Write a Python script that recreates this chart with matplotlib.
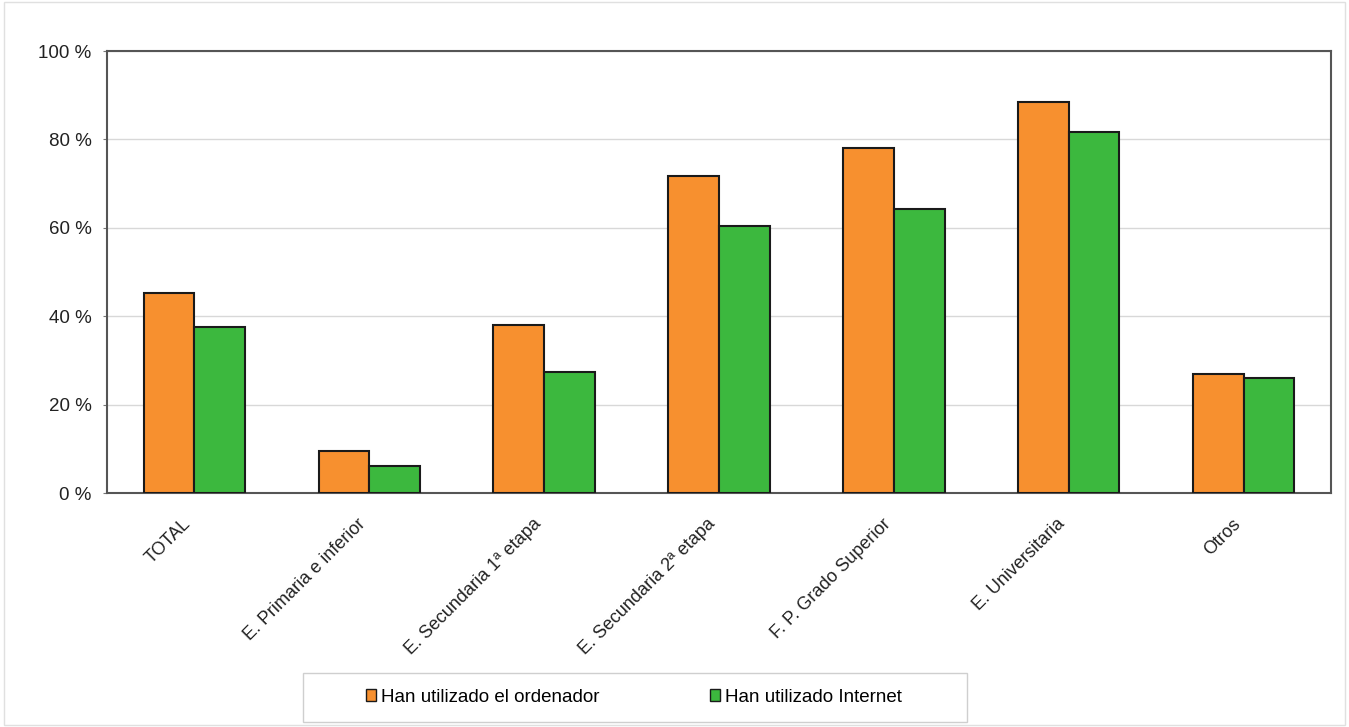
import numpy as np
import matplotlib.pyplot as plt
import matplotlib.transforms as mtransforms
from matplotlib.patches import Patch, Rectangle

plt.rcParams['font.family'] = ['Liberation Sans', 'DejaVu Sans']

categories = ['TOTAL', 'E. Primaria e inferior', 'E. Secundaria 1ª etapa',
              'E. Secundaria 2ª etapa', 'F. P. Grado Superior',
              'E. Universitaria', 'Otros']
ordenador = [45.2, 9.5, 38.0, 71.7, 78.1, 88.5, 26.9]
internet = [37.6, 6.1, 27.4, 60.4, 64.3, 81.7, 26.0]
yticks = [0, 20, 40, 60, 80, 100]
series_names = ['Han utilizado el ordenador', 'Han utilizado Internet']

orange = '#f7902f'
green = '#3cb83e'
W, H = 1349, 727

fig = plt.figure(figsize=(W / 100, H / 100), dpi=100)
ax = fig.add_axes([107 / W, 1 - 493 / H, (1331 - 107) / W, (493 - 51) / H])

x = np.arange(len(categories))
w = 0.29
ax.bar(x - w / 2, ordenador, w, color=orange, edgecolor='#1a1a1a', linewidth=1.5, zorder=3)
ax.bar(x + w / 2, internet, w, color=green, edgecolor='#1a1a1a', linewidth=1.5, zorder=3)

ax.set_xlim(-0.5, len(categories) - 0.5)
ax.set_ylim(0, 100)
ax.set_yticks(yticks)
ax.set_yticklabels([f'{v} %' for v in yticks], fontsize=13.5, color='#222222')
ax.set_xticks(x)
ax.set_xticklabels(categories, rotation=45, ha='right', rotation_mode='anchor',
                   fontsize=13, color='#222222')
ax.tick_params(axis='x', length=0, pad=16)
ax.tick_params(axis='y', length=3, color='#777777', direction='out', pad=8)
# nudge the rotated labels a bit to the left
shift = mtransforms.ScaledTranslation(-12 / 100, 0, fig.dpi_scale_trans)
for lbl in ax.get_xticklabels():
    lbl.set_transform(lbl.get_transform() + shift)
ax.grid(axis='y', color='#d8d8d8', linewidth=1, zorder=0)
for s in ax.spines.values():
    s.set_color('#555555')
    s.set_linewidth(1.5)

# legend box drawn separately so padding matches
fig.patches.append(Rectangle((303 / W, 1 - 722 / H), (967 - 303) / W, (722 - 673) / H,
                             transform=fig.transFigure, fill=False,
                             edgecolor='#cfcfcf', linewidth=1))
handles = [Patch(facecolor=orange, edgecolor='#1a1a1a'),
           Patch(facecolor=green, edgecolor='#1a1a1a')]
fig.legend(handles, series_names, loc='center',
           bbox_to_anchor=(634 / W, 1 - 697 / H), ncol=2,
           fontsize=13.5, frameon=False, handlelength=0.55,
           handleheight=0.55, handletextpad=0.25, columnspacing=5.9)

# faint outer border
fig.patches.append(Rectangle((0.003, 0.003), 0.994, 0.994, transform=fig.transFigure,
                             fill=False, edgecolor='#e0e0e0', linewidth=1))

fig.savefig('out.png', dpi=100)
